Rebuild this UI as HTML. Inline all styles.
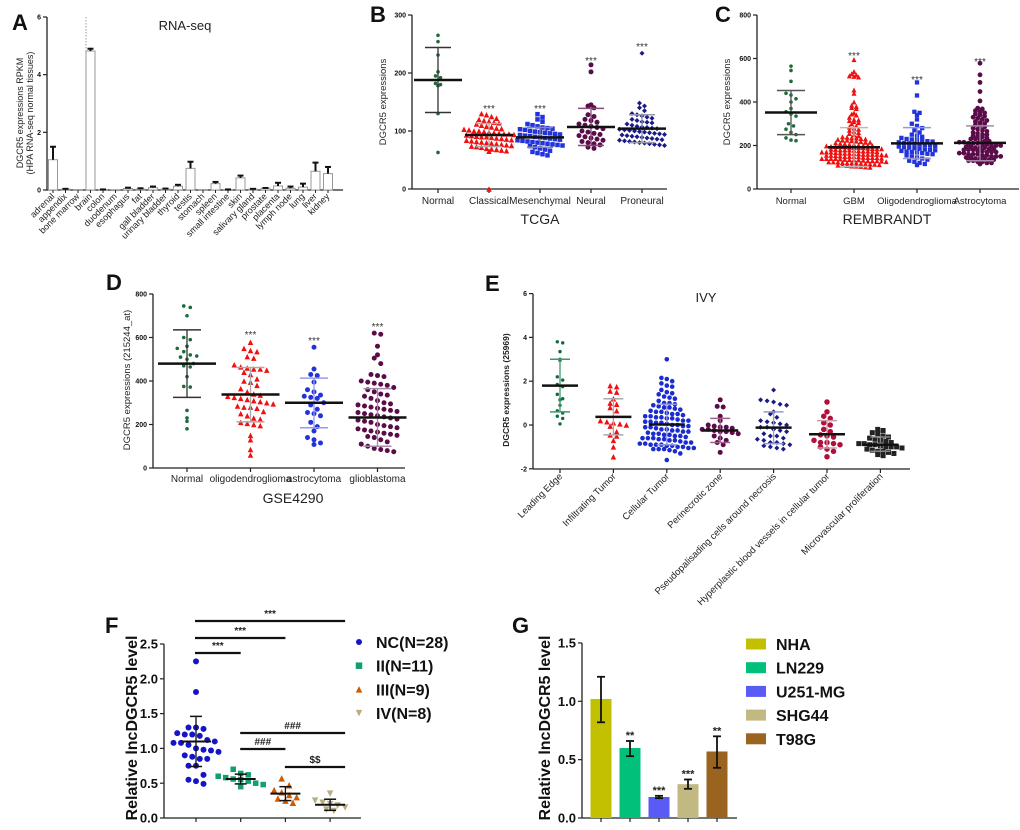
<!DOCTYPE html>
<html><head><meta charset="utf-8"><style>
html,body{margin:0;padding:0;background:#fff}
svg{display:block;font-family:"Liberation Sans",Arial,sans-serif}
</style></head><body>
<svg id="chart" width="1020" height="830" viewBox="0 0 1020 830" xmlns="http://www.w3.org/2000/svg"></svg>
<script>
// ---------- Panel A data ----------
const aCats=["adrenal","appendix","bone marrow","brain","colon","duodenum","esophagus","fat","gall bladder","urinary bladder","thyroid","testis","stomach","spleen","small intestine","skin","salivary gland","prostate","placenta","lymph node","lung","liver","kidney"];
const aVals=[1.05,0.03,0.01,4.82,0.01,0,0.05,0.03,0.08,0.03,0.13,0.75,0.01,0.22,0.01,0.42,0.03,0.06,0.14,0.06,0.1,0.65,0.57];
const aErr=[1.5,0.04,0.01,4.9,0.02,0,0.08,0.06,0.12,0.05,0.18,0.98,0.01,0.28,0.02,0.5,0.04,0.07,0.25,0.12,0.22,0.95,0.8];
const aTicks=[0,2,4,6];
// ---------- Panel B data ----------
const bCats=["Normal","Classical","Mesenchymal","Neural","Proneural"];
const bNormal=[265,254,231,202,195,192,182,180,178,130,63];
const bClassical=[130,128,125,122,120,118,117,115,114,112,110,108,107,105,104,103,102,100,100,99,98,97,96,95,95,94,93,92,91,90,90,89,88,87,86,85,84,83,82,81,80,79,78,77,76,75,74,73,72,70,69,68,67,66,65,0];
const bMesen=[129,124,120,116,112,110,108,106,105,104,103,102,100,99,98,97,96,95,94,93,92,91,90,89,88,87,86,85,84,83,82,81,80,79,78,77,76,75,74,72,70,68,66,64,62,60,58];
const bNeural=[214,202,145,143,140,128,125,120,118,115,112,110,108,106,104,100,98,96,94,92,90,88,86,84,82,80,78,76,72,70];
const bProneural=[234,148,143,140,135,130,128,126,124,122,120,118,116,115,114,112,110,108,107,106,105,104,103,102,101,100,99,98,97,96,95,94,93,92,91,90,89,88,87,86,85,84,83,82,81,80,79,78,77,76,75];
const bMean=[188,93,89,107,104];
const bSdLo=[132,73,72,75,80];
const bSdHi=[244,113,106,139,128];
const bTicks=[0,100,200,300];
// ---------- Panel C data ----------
const cCats=["Normal","GBM","Oligodendroglioma","Astrocytoma"];
const cNormal=[565,545,495,440,432,415,400,370,355,345,335,300,290,275,260,250,235,225,222];
const cGBM=[595,540,530,525,520,518,515,455,440,400,385,380,375,370,350,345,340,330,320,318,315,310,305,300,290,285,280,275,270,265,260,255,250,245,240,238,235,232,230,228,225,222,220,218,215,212,210,208,205,202,200,198,196,194,192,190,188,186,184,182,180,178,176,174,172,170,168,166,164,162,160,158,156,154,152,150,148,146,144,142,140,138,136,134,132,130,128,126,124,122,120,118,116,114,112,110,108,106,104,102,100,200,195,190,185,180,175,170,165,160,155,150,145,140,135,130,125,120,115,110,105,190,180,170,160,150,140,130,120,195,185,175,165,155,145,135,125,215,205,225,235,200,160,140];
const cOligo=[490,430,355,350,340,320,300,290,280,270,260,250,245,240,235,230,228,225,222,220,218,215,212,210,208,205,202,200,198,195,192,190,188,185,182,180,178,175,172,170,168,165,162,160,155,150,145,140,135,130,125,120,115,110];
const cAstro=[578,525,490,448,405,372,368,360,355,350,345,340,335,330,325,320,315,310,305,300,295,290,285,280,275,270,265,260,255,250,245,240,235,230,225,220,215,210,205,200,195,190,185,180,175,170,165,160,155,150,145,140,135,130,125,120,115,250,240,230,220,210,200,190,180,170,160,150,140,130,120,215,205,195,185,175,165,155,145,135,125,200,180,160,140,210,190,170,150];
const cMean=[352,192,210,212];
const cSdLo=[250,103,140,130];
const cSdHi=[453,282,282,290];
const cTicks=[0,200,400,600,800];
// ---------- Panel D data ----------
const dCats=["Normal","oligodendroglioma","astrocytoma","glioblastoma"];
const dNormal=[745,738,700,600,590,560,550,535,520,515,510,500,480,470,465,420,375,372,265,230,215,180];
const dOligo=[578,550,540,535,512,505,475,465,460,455,455,450,440,430,410,400,395,380,365,350,340,335,330,325,320,315,310,305,300,295,285,280,280,275,260,250,240,230,225,210,205,200,195,150,130,85,60];
const dAstro=[555,455,430,425,395,360,350,335,330,325,320,300,290,270,255,250,240,210,190,170,140,130,115,108];
const dGBM=[620,615,560,520,505,480,430,425,420,400,395,390,385,380,370,360,350,340,335,330,320,310,300,295,290,285,280,275,270,265,260,255,250,245,240,235,230,225,220,215,210,200,195,190,185,180,175,170,165,160,155,150,145,140,130,120,110,100,90,85,80,75];
const dMean=[480,338,300,232];
const dSdLo=[325,212,185,100];
const dSdHi=[635,462,413,365];
const dTicks=[0,200,400,600,800];
// ---------- Panel E data ----------
const eCats=["Leading Edge","Infiltrating Tumor","Cellular Tumor","Perinecrotic zone","Pseudopalisading cells around necrosis","Hyperplastic blood vessels in cellular tumor","Microvascular proliferation"];
const eLeading=[3.8,3.75,3.35,3.0,2.95,2.2,2.05,1.85,1.75,1.4,1.2,1.15,0.9,0.65,0.55,0.4,0.3,0.05];
const eInfil=[1.8,1.75,1.55,1.5,1.2,1.0,0.95,0.8,0.65,0.2,0.15,0.1,0.05,0.0,-0.05,-0.3,-0.45,-0.5,-0.7,-1.0,-1.45];
const eCell=[3.0,2.15,2.1,2.0,1.9,1.8,1.75,1.6,1.5,1.45,1.4,1.3,1.25,1.2,1.1,1.0,0.95,0.9,0.85,0.8,0.75,0.7,0.65,0.6,0.55,0.5,0.45,0.4,0.35,0.3,0.25,0.2,0.15,0.1,0.05,0.0,-0.05,-0.1,-0.15,-0.2,-0.25,-0.3,-0.35,-0.4,-0.45,-0.5,-0.55,-0.6,-0.65,-0.7,-0.75,-0.8,-0.85,-0.9,-0.95,-1.0,-1.05,-1.1,-1.15,-1.2,-1.3,-1.6,0.5,0.3,0.1,-0.1,-0.3,-0.5,-0.7,-0.9,-1.0,-1.1,0.4,0.2,0.0,-0.2,-0.4,-0.6,-0.8,-0.95,-1.05,0.35,0.15,-0.05,-0.25,-0.45,-0.65,-0.85,-1.1,1.0,0.8,0.6,-0.6,-0.9];
const ePerin=[1.15,0.85,0.82,0.4,0.2,0.0,-0.05,-0.1,-0.15,-0.2,-0.25,-0.3,-0.35,-0.4,-0.5,-0.6,-0.7,-0.8,-0.9,-1.25,-0.1,-0.2,-0.3];
const ePseudo=[1.6,1.15,1.1,1.05,0.95,0.9,0.6,0.5,0.35,0.2,0.15,0.1,0.05,0.0,-0.1,-0.2,-0.25,-0.3,-0.4,-0.5,-0.6,-0.65,-0.7,-0.8,-0.85,-0.9,-0.95,-1.0,-1.05,-1.1,-0.1,-0.5,-0.8];
const eHyper=[1.05,0.6,0.4,0.3,0.1,0.0,-0.2,-0.3,-0.45,-0.55,-0.7,-0.8,-0.85,-0.9,-1.0,-1.1,-1.2,-1.45,-0.8,-0.5];
const eMicro=[-0.2,-0.25,-0.35,-0.4,-0.5,-0.55,-0.6,-0.65,-0.7,-0.75,-0.8,-0.85,-0.9,-0.9,-0.95,-1.0,-1.0,-1.05,-1.1,-1.15,-1.2,-1.2,-1.25,-1.3,-1.35,-1.4,-0.85,-1.0];
const eMean=[1.8,0.37,0.02,-0.25,-0.12,-0.42,-0.9];
const eSdLo=[0.6,-0.45,-0.9,-0.8,-0.85,-1.05,-1.2];
const eSdHi=[3.0,1.2,0.95,0.3,0.6,0.2,-0.55];
const eTicks=[-2,0,2,4,6];
// ---------- Panel F data ----------
const fCats=["NC(N=28)","II(N=11)","III(N=9)","IV(N=8)"];
const fNC=[2.25,1.81,1.3,1.28,1.3,1.22,1.2,1.2,1.18,1.12,1.1,1.08,1.08,1.05,1.0,0.98,0.97,0.95,0.9,0.88,0.85,0.85,0.75,0.75,0.62,0.55,0.53,0.49];
const fII=[0.7,0.64,0.62,0.6,0.58,0.56,0.55,0.53,0.5,0.48,0.45];
const fIII=[0.57,0.47,0.4,0.37,0.33,0.3,0.28,0.25,0.22];
const fIV=[0.35,0.25,0.22,0.2,0.18,0.15,0.12,0.1];
const fMean=[1.1,0.56,0.35,0.19];
const fSdLo=[0.74,0.49,0.25,0.11];
const fSdHi=[1.46,0.63,0.45,0.27];
const fTicks=[0,0.5,1.0,1.5,2.0,2.5];
// ---------- Panel G data ----------
const gCats=["NHA","LN229","U251-MG","SHG44","T98G"];
const gVals=[1.02,0.60,0.18,0.29,0.57];
const gLo=[0.82,0.53,0.17,0.25,0.43];
const gHi=[1.21,0.66,0.19,0.33,0.70];
const gStars=["","**","***","***","**"];
const gTicks=[0,0.5,1.0,1.5];

const NS="http://www.w3.org/2000/svg";
const svg=document.getElementById('chart');
function mk(tag,attrs,parent){const e=document.createElementNS(NS,tag);for(const k in attrs)e.setAttribute(k,attrs[k]);(parent||svg).appendChild(e);return e;}
function txt(x,y,s,size,anchor,weight,rot,fill,parent){
  const t=mk('text',{x:x,y:y,'font-size':size,'text-anchor':anchor||'start','font-weight':weight||'normal',fill:fill||'#111'},parent);
  if(rot!==undefined&&rot!==null)t.setAttribute('transform','rotate('+rot+' '+x+' '+y+')');
  t.textContent=s;return t;}
function line(x1,y1,x2,y2,stroke,w,parent){return mk('line',{x1:x1,y1:y1,x2:x2,y2:y2,stroke:stroke,'stroke-width':w},parent);}
function marker(shape,cx,cy,s,color,parent){
  let e;
  if(shape==='dot')e=mk('circle',{cx:cx,cy:cy,r:s/2,fill:color},parent);
  else if(shape==='sq')e=mk('rect',{x:cx-s/2,y:cy-s/2,width:s,height:s,fill:color},parent);
  else if(shape==='tri')e=mk('polygon',{points:(cx)+','+(cy-s/2)+' '+(cx+s/2)+','+(cy+s/2)+' '+(cx-s/2)+','+(cy+s/2),fill:color},parent);
  else if(shape==='itri')e=mk('polygon',{points:(cx)+','+(cy+s/2)+' '+(cx+s/2)+','+(cy-s/2)+' '+(cx-s/2)+','+(cy-s/2),fill:color},parent);
  else e=mk('polygon',{points:cx+','+(cy-s/2)+' '+(cx+s/2)+','+cy+' '+cx+','+(cy+s/2)+' '+(cx-s/2)+','+cy,fill:color},parent);
  return e;}
// row-binned swarm: points in the same y-band are spread symmetrically
function swarm(vals,cx,ys,d,rh){
  const rows={};
  vals.forEach(v=>{const y=ys(v);const k=Math.round(y/rh);(rows[k]=rows[k]||[]).push(y);});
  const out=[];
  Object.keys(rows).forEach(k=>{const r=rows[k].sort((a,b)=>a-b);const n=r.length;
    r.forEach((y,j)=>{out.push({x:cx+(j-(n-1)/2)*d,y:y});});});
  return out;}
function yAxis(g,x0,ys,ticks,fmt,size,weight){
  line(x0,ys(ticks[ticks.length-1]),x0,ys(ticks[0]),'#222',1.3,g);
  ticks.forEach(t=>{line(x0-4,ys(t),x0,ys(t),'#222',1.2,g);
    const l=txt(x0-6,ys(t)+size*0.35,fmt(t),size,'end',weight,null,'#111',g);
    
    });}
function scatterPanel(g,groups,cfg){
  groups.forEach((grp,i)=>{
    const cx=cfg.xs(i);
    const gg=mk('g',{},g);
    
    
    swarm(grp.vals,cx,cfg.ys,grp.d||cfg.d,grp.rh||cfg.rh).forEach(p=>{
      const m=marker(grp.shape,p.x,p.y,grp.size,grp.color,gg);
      
      });
    const sc=grp.sd||'#888';
    const lo=cfg.ys(cfg.sdLo[i]),hi=cfg.ys(cfg.sdHi[i]);
    const sdl=line(cx,lo,cx,hi,sc,1.3,gg);
    
    
    line(cx-cfg.cap,lo,cx+cfg.cap,lo,sc,1.5,gg);
    line(cx-cfg.cap,hi,cx+cfg.cap,hi,sc,1.5,gg);
    const ml=line(cx-cfg.mw,cfg.ys(cfg.mean[i]),cx+cfg.mw,cfg.ys(cfg.mean[i]),'#111',cfg.mlw||2.5,gg);
    
    
  });}
function xAxis(g,x0,x1,y,xs,n){line(x0,y,x1,y,'#222',1.3,g);for(let i=0;i<n;i++)line(xs(i),y,xs(i),y+4,'#222',1.2,g);}
function panelLetter(x,y,s){const t=txt(x,y,s,22,'start','bold');}

// ================= Panel A =================
const gA=mk('g',{});


panelLetter(12,30,'A');
const yA=v=>190-v*(173/6), xA=i=>53+i*12.5;
yAxis(gA,47,yA,aTicks,t=>String(t),7,'bold');
line(47,190,343,190,'#222',1.3,gA);
line(86,17,86,190,'#999',1,gA).setAttribute('stroke-dasharray','1.5,1.5');
aCats.forEach((c,i)=>{const x=xA(i);
  const b=mk('rect',{x:x-4.5,y:yA(aVals[i]),width:9,height:Math.max(0.6,190-yA(aVals[i])),fill:'#fff',stroke:'#999','stroke-width':1},gA);
  
  
  if(aErr[i]>aVals[i]+0.005){line(x,yA(aVals[i]),x,yA(aErr[i]),'#111',2,gA);line(x-3,yA(aErr[i]),x+3,yA(aErr[i]),'#111',2,gA);}
  line(x,190,x,193,'#222',1,gA);
  const l=txt(x+2,197,c,9,'end','normal',-45,'#222',gA);
  
  });
const aT=txt(185,30,'RNA-seq',13,'middle','normal',null,'#222',gA);


const aY1=txt(23,113,'DGCR5 expressions RPKM',9,'middle','normal',-90,'#222',gA);


const aY2=txt(33,113,'(HPA RNA-seq normal tissues)',9,'middle','normal',-90,'#222',gA);



// ================= Panel B =================
const gB=mk('g',{});


panelLetter(370,22,'B');
const yB=v=>189-v*174/300, xB=i=>438+i*51;
yAxis(gB,412,yB,bTicks,t=>String(t),7,'bold');
xAxis(gB,412,667,189,xB,5);
scatterPanel(gB,[
 {vals:bNormal,shape:'dot',size:3.6,color:'#1d6b3a',sd:'#333'},
 {vals:bClassical,shape:'tri',size:5.5,color:'#f01010',sd:'#aaa'},
 {vals:bMesen,shape:'sq',size:4.5,color:'#2233dd',sd:'#889'},
 {vals:bNeural,shape:'dot',size:5,color:'#5a0c48',sd:'#8a4a7a',rh:6,d:6},
 {vals:bProneural,shape:'dia',size:5,color:'#1a1a88',sd:'#99a'}],
 {name:'tcga',xs:xB,ys:yB,d:5,rh:5.5,mean:bMean,sdLo:bSdLo,sdHi:bSdHi,cap:13,mw:24});
bCats.forEach((c,i)=>{const l=txt(xB(i),204,c,10,'middle','normal',null,'#222',gB);});
[1,2,3,4].forEach(i=>{const hi=[0,107,107,59,45][i];const s=txt(xB(i),hi+5,'***',10,'middle','normal',null,'#333',gB);});
const bX=txt(540,224,'TCGA',14,'middle','normal',null,'#222',gB);


const bY=txt(386,102,'DGCR5 expressions',9.5,'middle','normal',-90,'#222',gB);



// ================= Panel C =================
const gC=mk('g',{});


panelLetter(715,22,'C');
const yC=v=>189-v*174/800, xC=i=>791+i*63;
yAxis(gC,757,yC,cTicks,t=>String(t),7,'bold');
xAxis(gC,757,1019,189,xC,4);
scatterPanel(gC,[
 {vals:cNormal,shape:'dot',size:3.6,color:'#1d6b3a',sd:'#555',rh:6,d:5},
 {vals:cGBM,shape:'tri',size:5,color:'#f01010',sd:'#bbb',rh:3.2},
 {vals:cOligo,shape:'sq',size:4.3,color:'#2233dd',sd:'#99c',rh:4.5,d:5.2},
 {vals:cAstro,shape:'dot',size:4.8,color:'#5a0c48',sd:'#a8a',rh:3.6}],
 {name:'rembrandt',xs:xC,ys:yC,d:4.6,rh:4,mean:cMean,sdLo:cSdLo,sdHi:cSdHi,cap:14,mw:26});
cCats.forEach((c,i)=>{const l=txt(xC(i),204,c,9.5,'middle','normal',null,'#222',gC);});
[1,2,3].forEach(i=>{const hi=[0,54,78,60][i];const s=txt(xC(i),hi+5,'***',10,'middle','normal',null,'#333',gC);});
const cX=txt(887,224,'REMBRANDT',14,'middle','normal',null,'#222',gC);


const cY=txt(730,102,'DGCR5 expressions',9.5,'middle','normal',-90,'#222',gC);



// ================= Panel D =================
const gD=mk('g',{});


panelLetter(106,290,'D');
const yD=v=>468-v*174/800, xD=i=>187+i*63.5;
yAxis(gD,153,yD,dTicks,t=>String(t),7,'bold');
xAxis(gD,153,405,468,xD,4);
scatterPanel(gD,[
 {vals:dNormal,shape:'dot',size:3.6,color:'#1d6b3a',sd:'#333'},
 {vals:dOligo,shape:'tri',size:5.5,color:'#f01010',sd:'#aaa'},
 {vals:dAstro,shape:'dot',size:5,color:'#2233dd',sd:'#99e'},
 {vals:dGBM,shape:'dot',size:5,color:'#5a0c48',sd:'#a8a'}],
 {name:'gse4290',xs:xD,ys:yD,d:6.5,rh:8,mean:dMean,sdLo:dSdLo,sdHi:dSdHi,cap:14,mw:29});
dCats.forEach((c,i)=>{const l=txt(xD(i),482,c,10,'middle','normal',null,'#222',gD);});
[1,2,3].forEach(i=>{const hi=[0,335,341,327][i];const s=txt(xD(i),hi+3,'***',10,'middle','normal',null,'#333',gD);});
const dX=txt(293,503,'GSE4290',14,'middle','normal',null,'#222',gD);


const dY=txt(130,380,'DGCR5 expressions (215244_at)',9.5,'middle','normal',-90,'#222',gD);



// ================= Panel E =================
const gE=mk('g',{});


panelLetter(485,291,'E');
const yE=v=>425-v*21.9, xE=i=>560+i*53.4;
yAxis(gE,533,yE,eTicks,t=>String(t),7,'bold');
xAxis(gE,533,910,469,xE,7);
scatterPanel(gE,[
 {vals:eLeading,shape:'dot',size:3.4,color:'#0f6b3a',sd:'#3a9a70'},
 {vals:eInfil,shape:'tri',size:5.5,color:'#f01010',sd:'#aaa',rh:6.5,d:6.5},
 {vals:eCell,shape:'dot',size:4.6,color:'#1a2bd0',sd:'#99d'},
 {vals:ePerin,shape:'dot',size:5,color:'#5a0c48',sd:'#a06090',rh:6,d:6},
 {vals:ePseudo,shape:'dia',size:5,color:'#1a1a88',sd:'#99c',rh:6.5,d:6.5},
 {vals:eHyper,shape:'dot',size:5.5,color:'#b0103a',sd:'#c9a',rh:6.5,d:6.5},
 {vals:eMicro,shape:'sq',size:5,color:'#222',sd:'#888'}],
 {name:'ivy',xs:xE,ys:yE,d:5.4,rh:5.5,mean:eMean,sdLo:eSdLo,sdHi:eSdHi,cap:10,mw:18,mlw:2.5});
eCats.forEach((c,i)=>{const l=txt(xE(i)+3,477,c,9.5,'end','normal',-45,'#222',gE);});
const eT=txt(706,302,'IVY',13,'middle','normal',null,'#222',gE);


const eY=txt(509,390,'DGCR5 expressions (25969)',8.5,'middle','bold',-90,'#222',gE);



// ================= Panel F =================
const gF=mk('g',{});


panelLetter(105,633,'F');
const yF=v=>818-v*69.6, xF=i=>196+i*44.7;
yAxis(gF,164,yF,fTicks,t=>t.toFixed(1),13,'bold');
xAxis(gF,164,361,818,xF,4);
const fCols=['#1515c8','#10a070','#d05a00','#b8ad80'];
const fShapes=['dot','sq','tri','itri'];
scatterPanel(gF,[
 {vals:fNC,shape:'dot',size:6,color:fCols[0],sd:'#111'},
 {vals:fII,shape:'sq',size:5.5,color:fCols[1],sd:'#111'},
 {vals:fIII,shape:'tri',size:6.5,color:fCols[2],sd:'#111'},
 {vals:fIV,shape:'itri',size:6.5,color:fCols[3],sd:'#111'}],
 {name:'stage',xs:xF,ys:yF,d:7.5,rh:11,mean:fMean,sdLo:fSdLo,sdHi:fSdHi,cap:6,mw:15,mlw:2});
const fSig=[[0,3,621,'***'],[0,2,638,'***'],[0,1,653,'***'],[1,3,733,'###'],[1,2,749,'###'],[2,3,767,'$$']];
fSig.forEach(s=>{const x1=s[0]===0?195:xF(s[0])-0.5,x2=xF(s[1])+(s[1]===3?15:0);
  const l=line(x1,s[2],x2,s[2],'#111',2.2,gF);
  
  
  const t=txt((x1+x2)/2,s[2]-4,s[3],10,'middle','bold',null,'#222',gF);
  
  });
fCats.forEach((c,i)=>{const y=642+i*23.7;
  marker(fShapes[i],359,y,i===0?6:6.5,fCols[i],gF);
  const t=txt(376,y+6,c,16,'start','bold',null,'#111',gF);
  
  });
const fY=txt(137,728,'Relative lncDGCR5 level',16,'middle','bold',-90,'#111',gF);



// ================= Panel G =================
const gG=mk('g',{});


panelLetter(512,633,'G');
const yG=v=>818-v*116.7, xG=i=>601+i*29;
yAxis(gG,582,yG,gTicks,t=>t.toFixed(1),13,'bold');
xAxis(gG,582,737,818,xG,5);
const gCols=['#c2c000','#00c07a','#5a5af5','#c2b882','#9a6320'];
gCats.forEach((c,i)=>{const x=xG(i);
  const b=mk('rect',{x:x-10.5,y:yG(gVals[i]),width:21,height:818-yG(gVals[i]),fill:gCols[i]},gG);
  
  
  line(x,yG(gLo[i]),x,yG(gHi[i]),'#111',1.8,gG);
  line(x-4,yG(gLo[i]),x+4,yG(gLo[i]),'#111',1.8,gG);
  line(x-4,yG(gHi[i]),x+4,yG(gHi[i]),'#111',1.8,gG);
  if(gStars[i]){const s=txt(x,yG(gHi[i])-2,gStars[i],11,'middle','bold',null,'#222',gG);}
  const y=644+i*23.7;
  const sw=mk('rect',{x:746,y:y-5.5,width:20,height:11,fill:gCols[i]},gG);
  
  
  const t=txt(776,y+6,c,16,'start','bold',null,'#111',gG);
  
  });
const gY=txt(550,728,'Relative lncDGCR5 level',16,'middle','bold',-90,'#111',gG);


</script>
</body></html>
